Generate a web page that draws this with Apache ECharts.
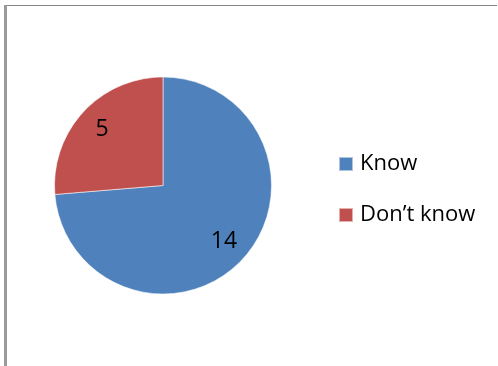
<!DOCTYPE html>
<html>
<head>
<meta charset="utf-8">
<script src="https://cdn.jsdelivr.net/npm/echarts@6/dist/echarts.min.js"></script>
<style>
html,body{margin:0;padding:0;background:#fff;}
#c{width:498px;height:366px;}
</style>
</head>
<body>
<div id="c"></div>
<script>
const categories = ["Know", "Don\u2019t know"];
const values = [14, 5];
const colors = ["#4F81BD", "#C0504D"];

const chart = echarts.init(document.getElementById('c'), null, {renderer: 'canvas'});
const pieData = categories.map((n, i) => ({name: n, value: values[i], itemStyle: {color: colors[i]}}));
const CX = 163, CY = 185.5, R = 108.5;
chart.setOption({
  animation: false,
  backgroundColor: '#fff',
  graphic: [
    {type: 'line', shape: {x1: 4, y1: 5.5, x2: 497, y2: 5.5}, style: {stroke: '#868686', lineWidth: 1}},
    {type: 'line', shape: {x1: 5.5, y1: 5, x2: 5.5, y2: 366}, style: {stroke: '#9a9a9a', lineWidth: 3}}
  ],
  legend: {
    orient: 'vertical',
    left: 333,
    top: 148,
    itemWidth: 14,
    itemHeight: 14,
    itemGap: 29,
    icon: 'rect',
    data: categories,
    textStyle: {fontFamily: 'Open Sans', fontSize: 22, color: '#000', lineHeight: 22, padding: [0, 0, 0, 2]}
  },
  series: [
    {
      type: 'pie',
      center: [CX, CY],
      radius: [0, R],
      startAngle: 90,
      clockwise: true,
      label: {show: false},
      labelLine: {show: false},
      itemStyle: {borderColor: 'rgba(255,255,255,0.55)', borderWidth: 1},
      emphasis: {disabled: true},
      data: pieData
    },
    {
      type: 'pie',
      center: [CX, CY],
      radius: [51, R],
      startAngle: 90,
      clockwise: true,
      silent: true,
      itemStyle: {color: 'transparent'},
      label: {show: true, position: 'inside', formatter: '{c}', fontFamily: 'Open Sans', fontSize: 23, color: '#000'},
      labelLine: {show: false},
      emphasis: {disabled: true},
      data: categories.map((n, i) => ({name: n, value: values[i], itemStyle: {color: 'transparent'}}))
    }
  ]
});
</script>
</body>
</html>
